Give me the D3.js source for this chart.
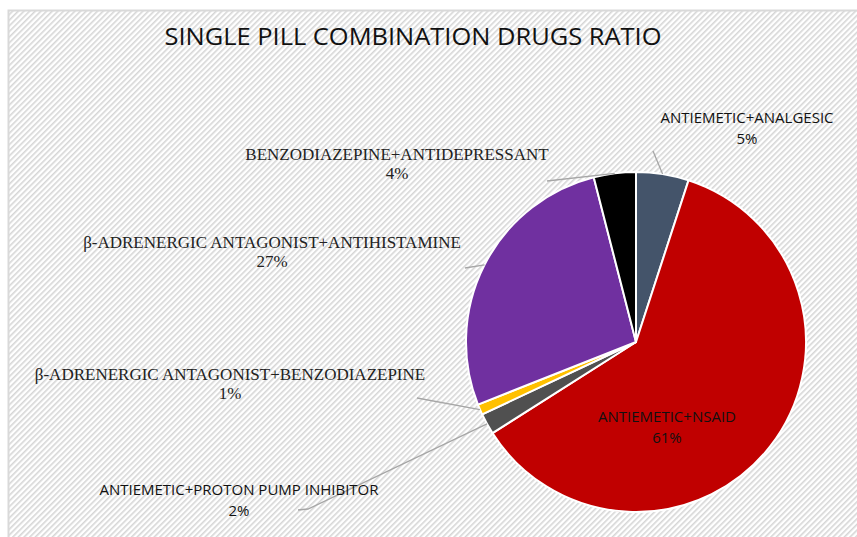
<!DOCTYPE html>
<html>
<head>
<meta charset="utf-8">
<script src="https://cdn.jsdelivr.net/npm/d3@7"></script>
<style>
  body { margin: 0; background: #fff; }
</style>
</head>
<body>
<div id="canvas"></div>
<script>
"use strict";

let svgWidth = 857;
let svgHeight = 537;

// data, clockwise from 12 o'clock
let drugs = [
  "ANTIEMETIC+ANALGESIC",
  "ANTIEMETIC+NSAID",
  "ANTIEMETIC+PROTON PUMP INHIBITOR",
  "β-ADRENERGIC ANTAGONIST+BENZODIAZEPINE",
  "β-ADRENERGIC ANTAGONIST+ANTIHISTAMINE",
  "BENZODIAZEPINE+ANTIDEPRESSANT"
];
let shares = [5, 61, 2, 1, 27, 4];
let sliceColors = ["#44546a", "#c00000", "#505050", "#ffc000", "#7030a0", "#000000"];

// label placement (label centre x, first baseline y, font, leader start)
let labelLayout = [
  { x: 747, y: 123, serif: false, leader: [[653, 151]] },
  { x: 667, y: 422, serif: false, leader: null },
  { x: 239, y: 495, serif: false, leader: [[298, 510], [308, 509]] },
  { x: 230, y: 380, serif: true, leader: [[417, 398]] },
  { x: 272, y: 248, serif: true, leader: [[465, 268]] },
  { x: 397, y: 160, serif: true, leader: [[547, 181]] }
];

let cx = 636, cy = 342, radius = 170;

let svg = d3.select("#canvas")
  .append("svg")
  .attr("width", svgWidth)
  .attr("height", svgHeight);

// hatched background
let defs = svg.append("defs");
let pat = defs.append("pattern")
  .attr("id", "hatch")
  .attr("patternUnits", "userSpaceOnUse")
  .attr("width", 4)
  .attr("height", 4)
  .attr("patternTransform", "rotate(-45)");
pat.append("rect").attr("width", 4).attr("height", 4).attr("fill", "#ffffff");
pat.append("rect").attr("width", 4).attr("height", 1.6).attr("fill", "#d6d6d6");

svg.append("rect")
  .attr("x", 8.5)
  .attr("y", 10.5)
  .attr("width", svgWidth)
  .attr("height", svgHeight)
  .attr("fill", "url(#hatch)")
  .attr("stroke", "#d9d9d9")
  .attr("stroke-width", 2);

// title
svg.append("text")
  .attr("x", 413)
  .attr("y", 45)
  .attr("text-anchor", "middle")
  .style("font-family", "'Open Sans', sans-serif")
  .style("font-size", "24px")
  .attr("textLength", 497)
  .attr("lengthAdjust", "spacingAndGlyphs")
  .attr("fill", "#111")
  .text("SINGLE PILL COMBINATION DRUGS RATIO");

let pie = d3.pie().sort(null).value(function(d){ return d; });
let arcs = pie(shares);
let arc = d3.arc().innerRadius(0).outerRadius(radius);

let g = svg.append("g").attr("transform", "translate(" + cx + "," + cy + ")");

g.selectAll("path")
  .data(arcs)
  .enter()
  .append("path")
  .attr("d", arc)
  .attr("fill", function(d, i){ return sliceColors[i]; })
  .attr("stroke", "#ffffff")
  .attr("stroke-width", 2)
  .attr("stroke-linejoin", "round");

// leader lines: from label to the slice's outer edge at mid angle
let edge = d3.arc().innerRadius(radius).outerRadius(radius);
arcs.forEach(function(d, i) {
  let lay = labelLayout[i];
  if (!lay.leader) return;
  let c = edge.centroid(d);
  let pts = lay.leader.concat([[c[0] + cx, c[1] + cy]]);
  svg.append("path")
    .attr("d", d3.line()(pts))
    .attr("fill", "none")
    .attr("stroke", "#a6a6a6")
    .attr("stroke-width", 1.3);
});

// labels
arcs.forEach(function(d, i) {
  let lay = labelLayout[i];
  let t = svg.append("text")
    .attr("text-anchor", "middle")
    .attr("fill", lay.serif ? "#222" : "#111")
    .style("font-family", lay.serif ? "'Liberation Serif', serif" : "'Open Sans', sans-serif")
    .style("font-size", lay.serif ? "17px" : "15px");
  t.append("tspan")
    .attr("x", lay.x)
    .attr("y", lay.y)
    .text(drugs[i]);
  t.append("tspan")
    .attr("x", lay.x)
    .attr("y", lay.y + (lay.serif ? 19 : 21))
    .text(shares[i] + "%");
});
</script>
</body>
</html>
